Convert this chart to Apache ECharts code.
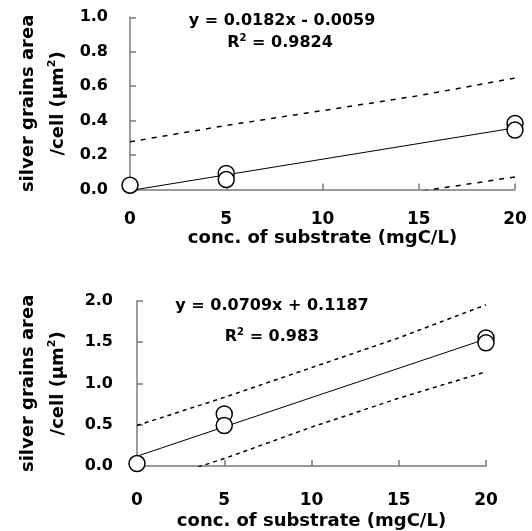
<!DOCTYPE html>
<html>
<head>
<meta charset="utf-8">
<script src="https://cdn.jsdelivr.net/npm/echarts/dist/echarts.min.js"></script>
<style>
  html, body { margin: 0; padding: 0; background: #fff; }
  #chart { width: 532px; height: 531px; }
</style>
</head>
<body>
<div id="chart"></div>
<script>
// 读图得到的数据
var xTicks = [0, 5, 10, 15, 20];

// 上图
var topX = [0, 5, 5, 20, 20];
var topY = [0.025, 0.093, 0.058, 0.384, 0.345];
var topFit = [[0, -0.0059], [20, 0.358]];
var topUpper = [[0, 0.277], [5, 0.372], [10, 0.458], [15, 0.545], [20, 0.647]];
var topLower = [[0, -0.29], [5, -0.20], [10, -0.106], [15, -0.012], [20, 0.073]];
var topEq = 'y = 0.0182x - 0.0059';
var topR2 = ' = 0.9824';

// 下图
var botX = [0, 5, 5, 20, 20];
var botY = [0.03, 0.63, 0.49, 1.55, 1.49];
var botFit = [[0, 0.1187], [20, 1.537]];
var botUpper = [[0, 0.49], [5, 0.83], [10, 1.19], [15, 1.55], [20, 1.95]];
var botLower = [[0, -0.25], [5, 0.09], [10, 0.47], [15, 0.82], [20, 1.14]];
var botEq = 'y = 0.0709x + 0.1187';
var botR2 = ' = 0.983';

var FONT = 'DejaVu Sans';
var axisGray = '#7a7a7a';

function pts(xs, ys) {
  return xs.map(function (x, i) { return [x, ys[i]]; });
}

var yName = '{a|silver grains area}\n{a|/cell (\u03bcm}{s|2}{a|)}';
var nameRich = {
  a: { fontFamily: FONT, fontWeight: 'bold', fontSize: 18, color: '#000', lineHeight: 30 },
  s: { fontFamily: FONT, fontWeight: 'bold', fontSize: 11, color: '#000', padding: [0, 0, 12, 0] }
};

function makeX(idx, margin, gap) {
  return {
    type: 'value', gridIndex: idx, min: 0, max: 20, interval: 5,
    name: 'conc. of substrate (mgC/L)', nameLocation: 'middle', nameGap: gap,
    nameTextStyle: { fontFamily: FONT, fontWeight: 'bold', fontSize: 18, color: '#000' },
    axisLine: { lineStyle: { color: axisGray, width: 1.5 } },
    axisTick: { inside: true, length: 6, lineStyle: { color: axisGray, width: 1.5 } },
    axisLabel: { fontFamily: FONT, fontWeight: 'bold', fontSize: 17, color: '#000', margin: margin },
    splitLine: { show: false }
  };
}

function makeY(idx, max, step, margin, gap) {
  return {
    type: 'value', gridIndex: idx, min: 0, max: max, interval: step,
    name: yName, nameLocation: 'middle', nameGap: gap, nameRotate: 90,
    nameTextStyle: { rich: nameRich },
    axisLine: { show: true, lineStyle: { color: axisGray, width: 1.5 } },
    axisTick: { show: true, inside: true, length: 6, lineStyle: { color: axisGray, width: 1.5 } },
    axisLabel: {
      fontFamily: FONT, fontWeight: 'bold', fontSize: 16, color: '#000', margin: margin,
      formatter: function (v) { return v.toFixed(1); }
    },
    splitLine: { show: false }
  };
}

function fitLine(idx, data) {
  return {
    type: 'line', xAxisIndex: idx, yAxisIndex: idx, data: data,
    symbol: 'none', lineStyle: { color: '#000', width: 1 }, silent: true
  };
}

function bandLine(idx, data, dash) {
  return {
    type: 'line', xAxisIndex: idx, yAxisIndex: idx, data: data,
    symbol: 'none', lineStyle: { color: '#000', width: 1.5, type: dash }, silent: true
  };
}

function dots(idx, data) {
  return {
    type: 'scatter', xAxisIndex: idx, yAxisIndex: idx, data: data,
    symbol: 'circle', symbolSize: 16, z: 5,
    itemStyle: { color: '#fff', borderColor: '#000', borderWidth: 1.5, opacity: 1 }
  };
}

var eqRich = {
  a: { fontFamily: FONT, fontWeight: 'bold', fontSize: 16, fill: '#000' },
  s: { fontFamily: FONT, fontWeight: 'bold', fontSize: 10, fill: '#000', padding: [0, 0, 10, 0] }
};

function eqText(x, y, txt) {
  return {
    type: 'text', x: x, y: y,
    style: { text: txt, align: 'center', verticalAlign: 'middle', rich: eqRich }
  };
}

var chart = echarts.init(document.getElementById('chart'));

var option = {
  animation: false,
  backgroundColor: '#fff',
  grid: [
    { left: 130, right: 17, top: 17.3, bottom: 341.5 },
    { left: 137, right: 46, top: 300.7, bottom: 64.3 }
  ],
  xAxis: [makeX(0, 22, 40), makeX(1, 26, 46)],
  yAxis: [makeY(0, 1, 0.2, 22, 57), makeY(1, 2, 0.5, 24, 64)],
  series: [
    bandLine(0, topUpper, [5, 6]),
    bandLine(0, topLower, [5, 6]),
    fitLine(0, topFit),
    dots(0, pts(topX, topY)),
    bandLine(1, botUpper, [4, 4]),
    bandLine(1, botLower, [4, 4]),
    fitLine(1, botFit),
    dots(1, pts(botX, botY))
  ],
  graphic: [
    eqText(282, 20.5, '{a|' + topEq + '}'),
    eqText(280, 43, '{a|R}{s|2}{a|' + topR2 + '}'),
    eqText(272, 306, '{a|' + botEq + '}'),
    eqText(272, 337, '{a|R}{s|2}{a|' + botR2 + '}')
  ]
};

chart.setOption(option);
</script>
</body>
</html>
